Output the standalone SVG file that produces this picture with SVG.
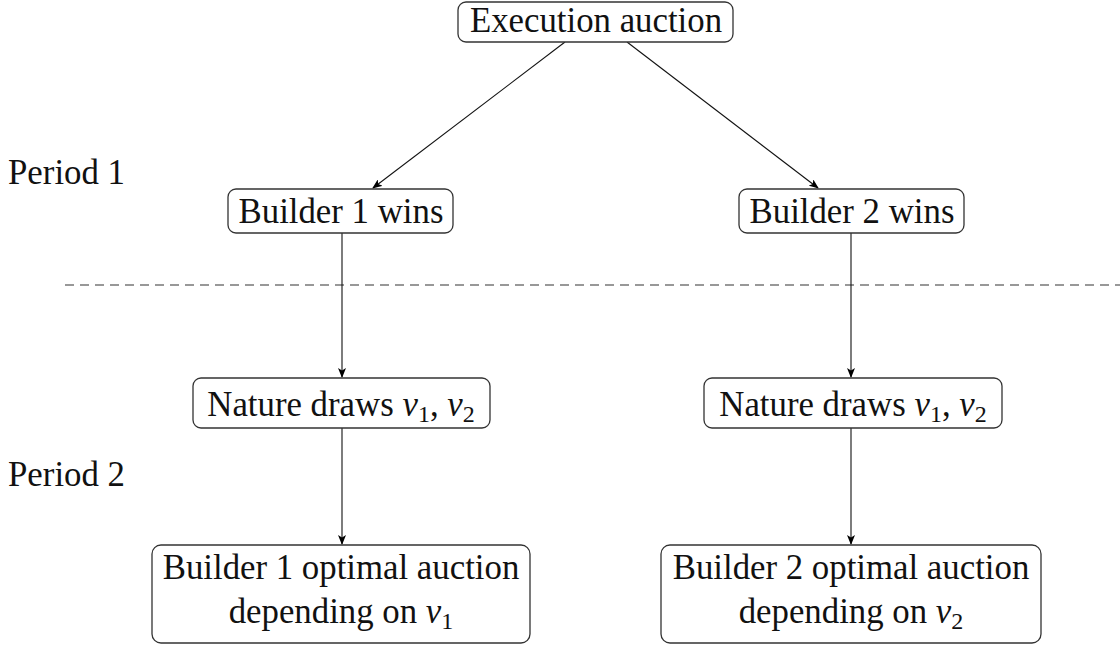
<svg xmlns="http://www.w3.org/2000/svg" width="1120" height="646" viewBox="0 0 1120 646">
<defs>
<marker id="arr" markerWidth="10" markerHeight="8" refX="9" refY="4" orient="auto" markerUnits="userSpaceOnUse">
<path d="M0,0 L10,4 L0,8 L2.5,4 Z" fill="#000"/>
</marker>
<style>
.box{fill:#fff;stroke:#333;stroke-width:1.3}
.t{font-family:"Liberation Serif","Times New Roman",serif;font-size:34.8px;fill:#111;text-anchor:middle}
.lab{font-family:"Liberation Serif","Times New Roman",serif;font-size:34.8px;fill:#111}
.m{font-style:italic}
.s{font-size:24px}
.c{stroke:#111;stroke-width:1.1;fill:none;marker-end:url(#arr)}
.dash{stroke:#777;stroke-width:1.5;stroke-dasharray:9 6}
</style>
</defs>
<rect width="1120" height="646" fill="#fff"/>
<line class="dash" x1="65" y1="285" x2="1120" y2="285"/>
<g id="connectors">
<line class="c" x1="565" y1="42" x2="373" y2="188"/>
<line class="c" x1="627" y1="42" x2="818" y2="188"/>
<line class="c" x1="342" y1="233" x2="342" y2="377"/>
<line class="c" x1="851" y1="233" x2="851" y2="377"/>
<line class="c" x1="342" y1="428" x2="342" y2="544"/>
<line class="c" x1="851" y1="428" x2="851" y2="544"/>
</g>
<g id="period1"><text class="lab" x="8" y="184">Period 1</text></g>
<g id="period2"><text class="lab" x="8" y="486">Period 2</text></g>
<g id="exec">
<rect class="box" x="458" y="2" width="275" height="40" rx="8"/>
<text class="t" x="596" y="32">Execution auction</text>
</g>
<g id="b1wins">
<rect class="box" x="228" y="189" width="225" height="44" rx="8"/>
<text class="t" x="341" y="223">Builder 1 wins</text>
</g>
<g id="b2wins">
<rect class="box" x="739" y="189" width="225" height="44" rx="8"/>
<text class="t" x="852" y="223">Builder 2 wins</text>
</g>
<g id="nature1">
<rect class="box" x="193" y="378" width="297" height="50" rx="8"/>
<text class="t" x="341" y="416">Nature draws <tspan class="m">v</tspan><tspan class="s" dy="6">1</tspan><tspan dy="-6">, </tspan><tspan class="m">v</tspan><tspan class="s" dy="6">2</tspan></text>
</g>
<g id="nature2">
<rect class="box" x="704" y="378" width="298" height="50" rx="8"/>
<text class="t" x="853" y="416">Nature draws <tspan class="m">v</tspan><tspan class="s" dy="6">1</tspan><tspan dy="-6">, </tspan><tspan class="m">v</tspan><tspan class="s" dy="6">2</tspan></text>
</g>
<g id="opt1">
<rect class="box" x="152" y="545" width="378" height="98" rx="9"/>
<text class="t" x="341" y="579">Builder 1 optimal auction</text>
<text class="t" x="341" y="623">depending on <tspan class="m">v</tspan><tspan class="s" dy="6">1</tspan></text>
</g>
<g id="opt2">
<rect class="box" x="661" y="545" width="380" height="98" rx="9"/>
<text class="t" x="851" y="579">Builder 2 optimal auction</text>
<text class="t" x="851" y="623">depending on <tspan class="m">v</tspan><tspan class="s" dy="6">2</tspan></text>
</g>
</svg>
